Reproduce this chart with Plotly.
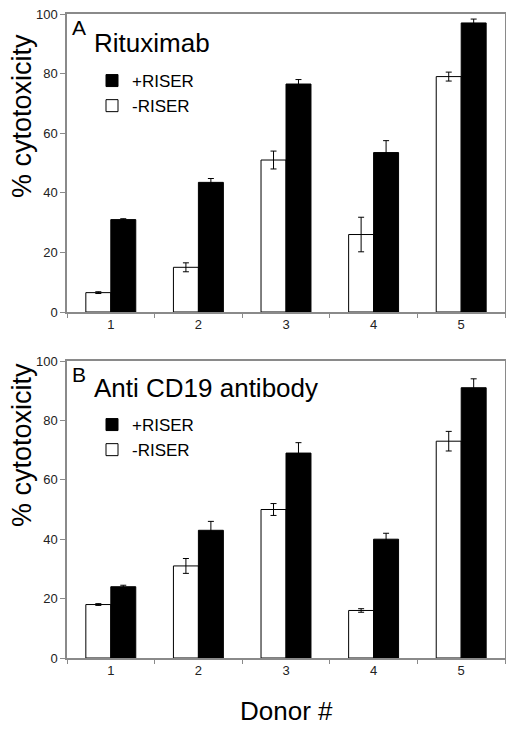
import plotly.graph_objects as go
from plotly.subplots import make_subplots

donors = ["1", "2", "3", "4", "5"]

# Panel A: Rituximab
a_minus = [6.5, 15, 51, 26, 79]
a_minus_err = [0.3, 1.5, 3, 5.8, 1.5]
a_plus = [31, 43.5, 76.5, 53.5, 97]
a_plus_err = [0.3, 1.3, 1.5, 4, 1.3]

# Panel B: Anti CD19 antibody
b_minus = [18, 31, 50, 16, 73]
b_minus_err = [0.3, 2.5, 2, 0.6, 3.3]
b_plus = [24, 43, 69, 40, 91]
b_plus_err = [0.5, 3, 3.5, 2, 3]

OFF = 8  # page body margin
W, H = 514 - OFF, 729 - OFF
ML, MR, MT, MB = 67 - OFF, 9, 14 - OFF, 71
PW = W - ML - MR
PH = H - MT - MB


def px(x):
    return (x - OFF - ML) / PW


def py(y):
    return (H - MB - (y - OFF)) / PH


FONT = "Liberation Sans, Arial, sans-serif"

fig = make_subplots(rows=2, cols=1, vertical_spacing=0.05)

panels = [
    (a_minus, a_minus_err, a_plus, a_plus_err, 1, "legend"),
    (b_minus, b_minus_err, b_plus, b_plus_err, 2, "legend2"),
]
for mn, mne, pl, ple, row, leg in panels:
    fig.add_trace(go.Bar(
        x=donors, y=mn, name="-RISER",
        marker=dict(color="white", line=dict(color="black", width=1)),
        error_y=dict(type="data", array=mne, color="black", thickness=1, width=3),
        legend=leg,
    ), row=row, col=1)
    fig.add_trace(go.Bar(
        x=donors, y=pl, name="+RISER",
        marker=dict(color="black", line=dict(color="black", width=1)),
        error_y=dict(type="data", array=ple, color="black", thickness=1, width=3),
        legend=leg,
    ), row=row, col=1)

axis_common = dict(showline=True, linecolor="#8a8a8a", linewidth=1.5, mirror=True,
                   showgrid=False, zeroline=False, automargin=False,
                   ticklabeloverflow="allow",
                   tickfont=dict(family=FONT, size=13, color="#222"))

for r in (1, 2):
    fig.update_xaxes(ticks="outside", tickson="boundaries", ticklen=4,
                     tickcolor="#8a8a8a", row=r, col=1, **axis_common)
    fig.update_yaxes(range=[0, 100], dtick=20, ticks="outside", ticklen=5,
                     tickcolor="#8a8a8a", row=r, col=1, **axis_common)

fig.update_layout(
    yaxis=dict(domain=[py(312), 1.0]),
    yaxis2=dict(domain=[0.0, py(361)]),
)

leg_common = dict(font=dict(family=FONT, size=17, color="black"),
                  traceorder="reversed", bgcolor="rgba(0,0,0,0)",
                  xanchor="left", yanchor="top", itemclick=False,
                  tracegroupgap=0)
fig.update_layout(
    legend=dict(x=px(92), y=py(63), **leg_common),
    legend2=dict(x=px(92), y=py(407), **leg_common),
)

annots = [
    dict(text="A", x=px(70), y=py(27), size=21),
    dict(text="Rituximab", x=px(92), y=py(43), size=26),
    dict(text="B", x=px(70), y=py(375), size=21),
    dict(text="Anti CD19 antibody", x=px(92), y=py(388), size=26),
]
for a in annots:
    fig.add_annotation(text=a["text"], x=a["x"], y=a["y"], xref="paper", yref="paper",
                       xanchor="left", yanchor="middle", showarrow=False,
                       font=dict(family=FONT, size=a["size"], color="black"))

for yc in (116, 445):
    fig.add_annotation(text="% cytotoxicity", x=px(22), y=py(yc), xref="paper", yref="paper",
                       xanchor="center", yanchor="middle", showarrow=False, textangle=-90,
                       font=dict(family=FONT, size=27, color="black"))

fig.add_annotation(text="Donor #", x=px(286), y=py(711), xref="paper", yref="paper",
                   xanchor="center", yanchor="middle", showarrow=False,
                   font=dict(family=FONT, size=26, color="black"))

fig.update_layout(
    width=W, height=H,
    margin=dict(l=ML, r=MR, t=MT, b=MB),
    paper_bgcolor="white", plot_bgcolor="white",
    barmode="group", bargap=0.43, bargroupgap=0,
    showlegend=True,
)

fig.write_html("out.html")
